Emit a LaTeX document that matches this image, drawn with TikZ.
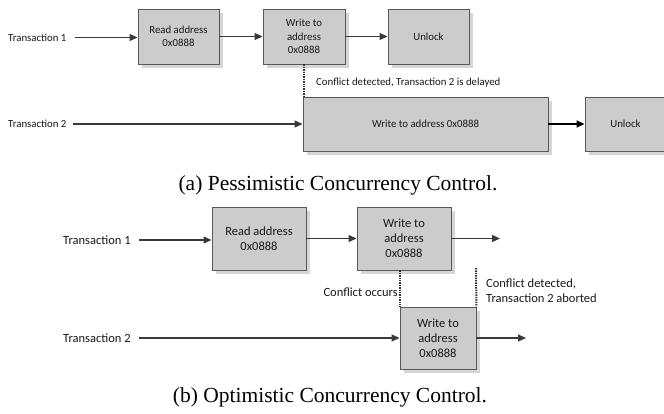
\documentclass[tikz,border=0pt]{standalone}
\usepackage{fontspec}
\setmainfont{Carlito}
\newfontfamily\capfont{Liberation Serif}
\usetikzlibrary{arrows.meta,shadows}

\definecolor{boxfill}{HTML}{CCCCCC}
\definecolor{boxline}{HTML}{595959}
\definecolor{shadowgray}{HTML}{D6D6D6}
\definecolor{flowline}{HTML}{3A3A3A}

\tikzset{
  opbox/.style={draw=boxline, line width=0.9pt, fill=boxfill, align=center,
    inner sep=1pt, text=black!90,
    drop shadow={shadow xshift=3.5pt, shadow yshift=-3.5pt, fill=shadowgray, opacity=1}},
  smallfont/.style={font=\fontsize{10.8}{13.5}\selectfont},
  largefont/.style={font=\fontsize{12.5}{15}\selectfont},
  flow/.style={draw=flowline, line width=1.1pt, -{Triangle[length=8pt,width=7pt]}},
  boldflow/.style={draw=black, line width=1.5pt, -{Triangle[length=8pt,width=7pt]}},
  conflict/.style={draw=black!80, line width=2pt, dash pattern=on 1.4pt off 1pt},
  lbl/.style={inner sep=0pt, text=black!90},
  caption/.style={inner sep=0pt, font=\capfont\fontsize{21.5}{24}\selectfont}
}

\begin{document}
\begin{tikzpicture}[x=1pt, y=-1pt]
\useasboundingbox (0,0) rectangle (664,413);

% ---- (a) pessimistic: lock held until the write finishes ----
\begin{scope}[smallfont]
  \node[opbox, minimum width=81pt, minimum height=55pt] (ra) at (178.5,36.5) {Read address\\0x0888};
  \node[opbox, minimum width=82pt, minimum height=55pt] (wa) at (304,36.5) {Write to\\address\\0x0888};
  \node[opbox, minimum width=81pt, minimum height=55pt] (ua) at (428.5,36.5) {Unlock};
  \node[opbox, minimum width=245pt, minimum height=54pt] (wb) at (425.5,124) {Write to address 0x0888};
  \node[opbox, minimum width=81pt, minimum height=54pt] (ub) at (625.5,124) {Unlock};

  \node[lbl, anchor=west] (ta1) at (8,37.5) {Transaction 1};
  \node[lbl, anchor=west] (ta2) at (8,124) {Transaction 2};
  \node[lbl, anchor=base west] (ca) at (316,85) {Conflict detected, Transaction 2 is delayed};

  \draw[flow] ([xshift=8pt]ta1.east) -- (ra.west |- ta1.east);
  \draw[flow] (ra.east) -- (wa.west);
  \draw[flow] (wa.east) -- (ua.west);
  \draw[flow] ([xshift=6pt]ta2.east) -- (wb.west);
  \draw[boldflow] (wb.east) -- (ub.west);
  \draw[conflict] (wa.south) -- (wa.south |- wb.north);
\end{scope}

\node[caption, anchor=base] (capa) at (338,190) {(a) Pessimistic Concurrency Control.};

% ---- (b) optimistic: conflict found at validation, transaction aborted ----
\begin{scope}[largefont]
  \node[opbox, minimum width=94pt, minimum height=63pt] (rc) at (259,238.5) {Read address\\0x0888};
  \node[opbox, minimum width=94pt, minimum height=63pt] (wc) at (404,238.5) {Write to\\address\\0x0888};
  \node[opbox, minimum width=76pt, minimum height=62pt] (wd) at (438,338) {Write to\\address\\0x0888};

  \node[lbl, anchor=west] (tc1) at (63,240) {Transaction 1};
  \node[lbl, anchor=west] (tc2) at (63,338) {Transaction 2};
  \node[lbl, anchor=base east] (occ) at (398,296) {Conflict occurs};
  \node[lbl, anchor=north west, align=left] (abt) at (486,279) {Conflict detected,\\Transaction 2 aborted};

  \coordinate (endc) at (500,238.5);
  \coordinate (endd) at (526,338);
  \coordinate (chk) at (476,268);

  \draw[flow] ([xshift=8pt]tc1.east) -- (rc.west |- tc1.east);
  \draw[flow] (rc.east) -- (wc.west);
  \draw[flow] (wc.east) -- (endc);
  \draw[flow] ([xshift=8pt]tc2.east) -- (wd.west);
  \draw[flow] (wd.east) -- (endd);
  \draw[conflict] (wd.north west |- wc.south) -- (wd.north west);
  \draw[conflict] (chk) -- (wd.north east);
\end{scope}

\node[caption, anchor=base] (capb) at (330,402) {(b) Optimistic Concurrency Control.};
\end{tikzpicture}
\end{document}
